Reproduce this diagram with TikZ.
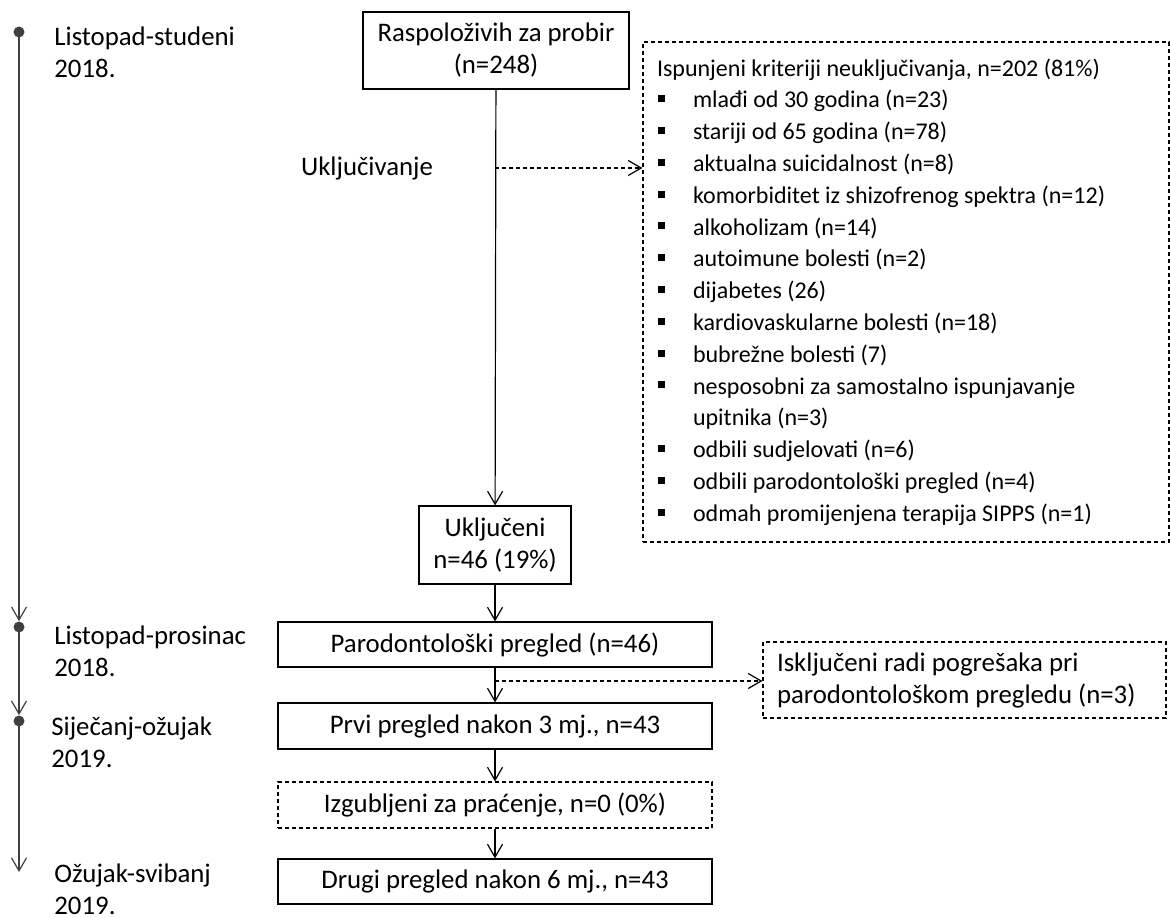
\documentclass[tikz,border=0pt]{standalone}
\usepackage{fontspec}
\setmainfont{Carlito}
\usetikzlibrary{arrows.meta}
\usetikzlibrary{positioning}
\definecolor{LineGray}{HTML}{404040}
\newcommand{\lbul}{\makebox[18pt][l]{\hspace{0.5pt}\rule[2.9pt]{3.5pt}{3.5pt}}}
\newcommand{\wordgap}{\spaceskip=\fontdimen2\font plus \fontdimen3\font minus \fontdimen4\font\relax}

\begin{document}
\begin{tikzpicture}[x=0.5pt, y=-0.5pt,
  every node/.style={font=\fontsize{13.4}{16}\selectfont, execute at begin node={\wordgap}},
  flowbox/.style={draw, line width=0.6pt, align=center, inner sep=0pt},
  dashbox/.style={flowbox, dash pattern=on 2pt off 1.5pt},
  flow/.style={line width=0.6pt, -{Straight Barb[length=6.5pt,width=7.5pt]}},
  dashflow/.style={flow, dash pattern=on 2pt off 1.5pt},
  when/.style={anchor=west, align=left, inner sep=0pt},
  tick/.style={circle, fill=LineGray, inner sep=0pt, minimum size=5.5pt}]
  \useasboundingbox (0,0) rectangle (1170,917);

  % main column
  \node[flowbox, minimum width=133pt, minimum height=38.5pt] (Screen) at (496,50.5)
    {Raspoloživih za probir\\(n=248)};
  \node[flowbox, minimum width=76pt, minimum height=39pt] (Incl) at (495,545)
    {Uključeni\\n=46 (19\%)};
  \node[flowbox, minimum width=217pt, minimum height=22.5pt] (Perio) at (495,644.5)
    {Parodontološki pregled (n=46)};
  \node[flowbox, minimum width=217pt, minimum height=23pt] (First) at (495,726)
    {Prvi pregled nakon 3 mj., n=43};
  \node[dashbox, minimum width=217pt, minimum height=23pt] (Lost) at (495,805)
    {Izgubljeni za praćenje, n=0 (0\%)};
  \node[flowbox, minimum width=217pt, minimum height=22.5pt] (Second) at (495,881.5)
    {Drugi pregled nakon 6 mj., n=43};

  % side boxes
  \node[dashbox, align=left, text width=249pt, inner xsep=7pt, minimum height=250pt,
    font=\fontsize{12}{15.9}\selectfont] (Excl) at (906,292)
    {Ispunjeni kriteriji neuključivanja, n=202 (81\%)\\
     \lbul mlađi od 30 godina (n=23)\\
     \lbul stariji od 65 godina (n=78)\\
     \lbul aktualna suicidalnost (n=8)\\
     \lbul komorbiditet iz shizofrenog spektra (n=12)\\
     \lbul alkoholizam (n=14)\\
     \lbul autoimune bolesti (n=2)\\
     \lbul dijabetes (26)\\
     \lbul kardiovaskularne bolesti (n=18)\\
     \lbul bubrežne bolesti (7)\\
     \lbul nesposobni za samostalno ispunjavanje\\
     \hspace*{18pt}upitnika (n=3)\\
     \lbul odbili sudjelovati (n=6)\\
     \lbul odbili parodontološki pregled (n=4)\\
     \lbul odmah promijenjena terapija SIPPS (n=1)};
  \node[dashbox, align=left, text width=187.5pt, inner xsep=7pt, minimum height=38pt]
    (Drop) at (964.5,680)
    {Isključeni radi pogrešaka pri\\parodontološkom pregledu (n=3)};

  \node (InclLabel) at (367,168) {Uključivanje};

  % connectors
  \draw[flow] (Screen) -- (Incl);
  \draw[flow] (Incl) -- (Perio);
  \draw[flow] (Perio) -- (First);
  \draw[flow] (First) -- (Lost);
  \draw[flow] (Lost) -- (Second);

  \coordinate (BranchA) at (495,168);
  \coordinate (BranchB) at (495,681);
  \draw[dashflow] (BranchA) -- (BranchA -| Excl.west);
  \draw[dashflow] (BranchB) -- (BranchB -| Drop.west);

  % timeline
  \node[tick] (TickA) at (19,32) {};
  \node[tick] (TickB) at (19,627) {};
  \node[tick] (TickC) at (19,721) {};
  \coordinate (TickEnd) at (19,872);
  \draw[flow, LineGray] (TickA.center) -- (TickB.north);
  \draw[flow, LineGray] (TickB.center) -- (TickC.north);
  \draw[flow, LineGray] (TickC.center) -- (TickEnd);

  \node[when] (WhenA) at (54,52.5) {Listopad-studeni\\2018.};
  \node[when] (WhenB) at (54,651.5) {Listopad-prosinac\\2018.};
  \node[when] (WhenC) at (51,742.5) {Siječanj-ožujak\\2019.};
  \node[when] (WhenD) at (54,889) {Ožujak-svibanj\\2019.};
\end{tikzpicture}
\end{document}
